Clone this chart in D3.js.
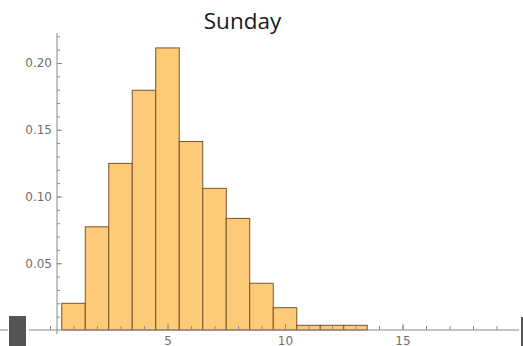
<!DOCTYPE html>
<html>
<head>
  <meta charset="utf-8">
  <title>Sunday</title>
  <script src="https://d3js.org/d3.v7.min.js"></script>
  <style>
    body { margin: 0; background: #fff; }
    svg { display: block; }
    .axis path, .axis line { stroke: #8a8a8a; }
    .axis text { fill: #6f6f6f; font-family: "DejaVu Sans", sans-serif; font-size: 12px; }
    .bar { fill: #fdcb78; stroke: #75552b; stroke-width: 1; }
  </style>
</head>
<body>
  <svg width="523" height="346"></svg>

  <script>
    // histogram bins (centre value) and their probability density
    const binCentres = [1, 2, 3, 4, 5, 6, 7, 8, 9, 10, 11, 12, 13];
    const densities = [0.020, 0.0773, 0.1248, 0.1796, 0.2113, 0.1412, 0.1061, 0.0836, 0.035, 0.0167, 0.0035, 0.0035, 0.0035];
    const xMajorTicks = [5, 10, 15];
    const xMinorTicks = d3.range(0, 20);
    const yMajorTicks = [0.05, 0.10, 0.15, 0.20];
    const yMinorTicks = d3.range(1, 23).map(d => d / 100);
    const title = "Sunday";

    const svg = d3.select("svg");

    const x = d3.scaleLinear().domain([0, 20]).range([50, 520]);
    const y = d3.scaleLinear().domain([0, 0.2]).range([330, 63]);

    // bars
    svg.selectAll("rect.bar")
      .data(binCentres)
      .enter()
      .append("rect")
      .attr("class", "bar")
      .attr("x", d => x(d - 0.5))
      .attr("width", x(1) - x(0))
      .attr("y", (d, i) => y(densities[i]))
      .attr("height", (d, i) => y(0) - y(densities[i]));

    // x axis: minor then major ticks, pointing up
    const gx = svg.append("g").attr("class", "axis").attr("transform", `translate(0,${y(0)})`);
    gx.append("g")
      .call(d3.axisBottom(x).tickValues(xMinorTicks).tickSizeInner(-4).tickSizeOuter(0).tickFormat(""))
      .select(".domain").remove();
    gx.append("g")
      .call(d3.axisBottom(x).tickValues(xMajorTicks).tickSizeInner(-6).tickSizeOuter(0).tickPadding(6.5).tickFormat(d3.format("d")))
      .select(".domain").remove();
    gx.append("line").attr("x1", x(-0.9)).attr("x2", x(19.96)).attr("stroke", "#8a8a8a");

    // y axis: ticks pointing right
    const gy = svg.append("g").attr("class", "axis").attr("transform", `translate(57,0)`);
    gy.append("g")
      .call(d3.axisLeft(y).tickValues(yMinorTicks).tickSizeInner(-3).tickSizeOuter(0).tickFormat(""))
      .select(".domain").remove();
    gy.append("g")
      .call(d3.axisLeft(y).tickValues(yMajorTicks).tickSizeInner(-5).tickSizeOuter(0).tickPadding(5).tickFormat(d3.format(".2f")))
      .select(".domain").remove();
    gy.append("line").attr("y1", y(0.2223)).attr("y2", y(-0.003)).attr("stroke", "#8a8a8a");

    // leftovers of the neighbouring panels at the edges
    svg.append("line").attr("x1", 0).attr("x2", 8).attr("y1", 330).attr("y2", 330).attr("stroke", "#8a8a8a");
    svg.append("rect").attr("x", 9).attr("y", 316).attr("width", 17).attr("height", 30).attr("fill", "#555");
    svg.append("rect").attr("x", 521).attr("y", 317).attr("width", 2).attr("height", 29).attr("fill", "#555");

    svg.append("text")
      .attr("x", 242.5)
      .attr("y", 29)
      .attr("text-anchor", "middle")
      .attr("font-family", "Open Sans, sans-serif")
      .attr("font-size", 22.5)
      .attr("fill", "#1a1a1a")
      .text(title);
  </script>
</body>
</html>
